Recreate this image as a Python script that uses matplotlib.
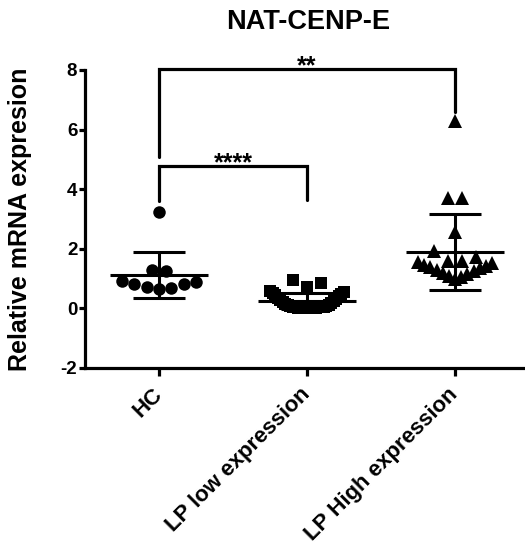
import numpy as np
import matplotlib.pyplot as plt

plt.rcParams['font.family'] = ['Liberation Sans', 'DejaVu Sans']

# ---- data ----
groups = ['HC', 'LP low expression', 'LP High expression']
markers = ['o', 's', '^']
marker_sizes = [9, 8, 9.5]

hc = [3.23, 1.27, 1.29, 0.92, 0.83, 0.73, 0.64, 0.70, 0.81, 0.90]
lp_low = [0.00, 0.00, 0.01, 0.01, 0.02, 0.02, 0.03, 0.03, 0.04, 0.04,
          0.05, 0.05, 0.06, 0.07, 0.08, 0.10, 0.12, 0.14, 0.17, 0.20,
          0.24, 0.28, 0.32, 0.36, 0.40, 0.44, 0.48, 0.52, 0.55, 0.58,
          0.73, 0.86, 0.95]
lp_high = [6.30, 3.72, 3.69, 2.57, 1.93, 1.74, 1.59, 1.59,
           0.98, 1.04, 1.09, 1.14, 1.19, 1.24, 1.29, 1.34, 1.39, 1.43,
           1.47, 1.51, 1.55]
series = [hc, lp_low, lp_high]

yticks = [-2, 0, 2, 4, 6, 8]
# significance brackets: (left group, right group, top, left leg end, right leg end, label)
brackets = [(0, 2, 8.03, 5.08, 6.6, '**'),
            (0, 1, 4.77, 3.6, 3.65, '****')]


def scatter_rows(vals, bin_h, step, half_w):
    """Prism-like column scatter: values close in y share a row,
    lowest in the middle and the rest alternating right / left"""
    vals = np.asarray(vals)
    order = np.argsort(vals, kind='stable')
    offs = np.zeros(len(vals))
    k = 0
    while k < len(order):
        start = vals[order[k]]
        row = [order[k]]
        k += 1
        while k < len(order) and vals[order[k]] < start + bin_h:
            row.append(order[k])
            k += 1
        n = len(row)
        s = step if n < 2 else min(step, 2 * half_w / (n - 1))
        for j, idx in enumerate(row):
            if n % 2:
                pos = ((j + 1) // 2) * (1 if j % 2 else -1)
            else:
                pos = (j // 2 + 0.5) * (1 if j % 2 == 0 else -1)
            offs[idx] = pos * s
    return offs


W, H = 525, 544
fig = plt.figure(figsize=(W / 100, H / 100), dpi=100)
ax = fig.add_axes([85 / W, 176 / H, 444 / W, 298 / H])
ax.set_xlim(-0.5, 2.5)
ax.set_ylim(-2, 8)

# pixel scale of the x axis
sx = ax.transData.transform((1, 0))[0] - ax.transData.transform((0, 0))[0]

for i, vals in enumerate(series):
    vals = np.array(vals)
    xs = i + scatter_rows(vals, 0.6, 14, 37) / sx
    ax.plot(xs, vals, linestyle='none', marker=markers[i], color='black',
            markersize=marker_sizes[i], markeredgewidth=0, zorder=3, clip_on=False)
    m = vals.mean()
    sd = vals.std(ddof=1)
    ax.hlines(m, i - 0.33, i + 0.33, color='black', lw=2.2, zorder=4)
    ax.vlines(i, m - sd, m + sd, color='black', lw=2.2, zorder=4)
    ax.hlines([m - sd, m + sd], i - 0.175, i + 0.175, color='black', lw=2.2, zorder=4)

for a, b, top, la, lb, lab in brackets:
    ax.plot([a, a, b, b], [la, top, top, lb], color='black', lw=2.3,
            clip_on=False, solid_capstyle='round', solid_joinstyle='miter')
    ax.text((a + b) / 2, top - 0.14, lab, ha='center', va='baseline',
            fontsize=18, fontweight='bold')

for s in ['top', 'right']:
    ax.spines[s].set_visible(False)
for s in ['left', 'bottom']:
    ax.spines[s].set_linewidth(2.3)

ax.set_yticks(yticks)
ax.set_yticklabels([str(t) for t in yticks], fontsize=13.5, fontweight='bold')
ax.tick_params(axis='y', length=4.5, width=2.3, pad=1)
ax.set_xticks(range(len(groups)))
ax.set_xticklabels(groups, rotation=45, ha='right', va='center',
                   rotation_mode='anchor', fontsize=16, fontweight='bold')
ax.tick_params(axis='x', length=6, width=2.3, pad=11)

ax.set_ylabel('Relative mRNA expresion', fontsize=18, fontweight='bold')
ax.yaxis.set_label_coords(-(85 - 32) / 444, 0.5)

fig.text(308 / W, 1 - 22 / H, 'NAT-CENP-E', ha='center', va='center',
         fontsize=19.5, fontweight='bold')

fig.savefig('out.png', dpi=100)
